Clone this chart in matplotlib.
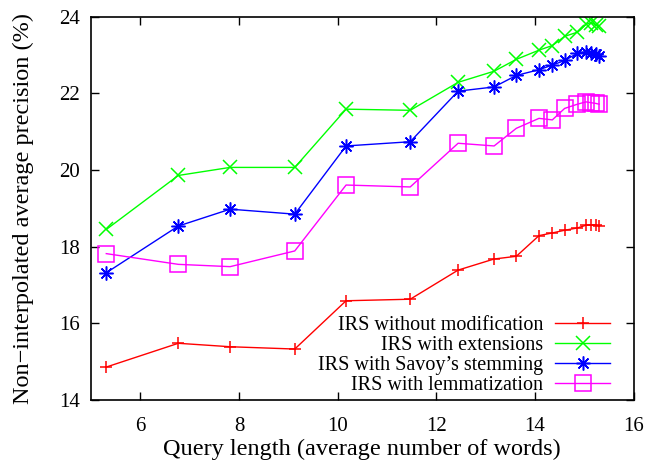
import matplotlib
matplotlib.use("Agg")
import matplotlib.pyplot as plt

x = [5.31, 6.77, 7.82, 9.13, 10.17, 11.47, 12.44, 13.17, 13.62, 14.08,
     14.35, 14.6, 14.86, 15.03, 15.13, 15.23, 15.3]
without_mod = [14.86, 15.48, 15.39, 15.33, 16.59, 16.63, 17.39, 17.68, 17.75, 18.29,
               18.36, 18.43, 18.49, 18.56, 18.57, 18.56, 18.55]
extensions = [18.45, 19.86, 20.07, 20.07, 21.59, 21.56, 22.29, 22.58, 22.89, 23.13,
              23.25, 23.49, 23.6, 23.8, 23.85, 23.79, 23.77]
savoy = [17.32, 18.54, 18.98, 18.85, 20.63, 20.74, 22.06, 22.17, 22.47, 22.62,
         22.74, 22.86, 23.05, 23.09, 23.05, 23.02, 22.97]
lemma = [17.82, 17.54, 17.48, 17.89, 19.61, 19.56, 20.70, 20.63, 21.09, 21.35,
         21.31, 21.61, 21.72, 21.78, 21.76, 21.74, 21.72]

labels = ["IRS without modification", "IRS with extensions",
          "IRS with Savoy\u2019s stemming", "IRS with lemmatization"]
xticks = [6, 8, 10, 12, 14, 16]
yticks = [14, 16, 18, 20, 22, 24]

plt.rcParams['font.family'] = ['Liberation Serif', 'DejaVu Serif']

fig = plt.figure(figsize=(6.48, 4.62), dpi=100)
ax = fig.add_axes([0.1404, 0.1342, 0.8376, 0.8294])

ax.plot(x, without_mod, color='#ff0000', lw=1, marker='+', ms=9, mew=1.1, label=labels[0])
ax.plot(x, extensions, color='#00ff00', lw=1, marker='x', ms=10, mew=1.1, label=labels[1])
ax.plot(x, savoy, color='#0000ff', lw=1, marker=(8, 2, 0), ms=10, mew=1.1, label=labels[2])
ax.plot(x, lemma, color='#ff00ff', lw=1, marker='s', ms=11, mew=1.1, mfc='none', label=labels[3])

ax.set_xlim(5, 16)
ax.set_ylim(14, 24)
ax.set_xticks(xticks)
ax.set_yticks(yticks)
ax.tick_params(direction='in', top=True, right=True, length=6, width=1,
               labelsize=15)
ax.tick_params(axis='x', pad=12)
ax.tick_params(axis='y', pad=8)
for s in ax.spines.values():
    s.set_linewidth(1.2)

ax.set_xlabel("Query length (average number of words)", fontsize=17.5, labelpad=2)
ax.set_ylabel("Non\u2212interpolated average precision (%)", fontsize=17.5, labelpad=18)

leg = ax.legend(loc='lower right', frameon=False, markerfirst=False, fontsize=14.5,
                handlelength=2.7, handletextpad=0.6, labelspacing=0.05,
                borderaxespad=0.0, borderpad=0.0, bbox_to_anchor=(0.956, 0.012))
for t in leg.get_texts():
    t.set_ha('right')

fig.savefig("out.png", dpi=100)
